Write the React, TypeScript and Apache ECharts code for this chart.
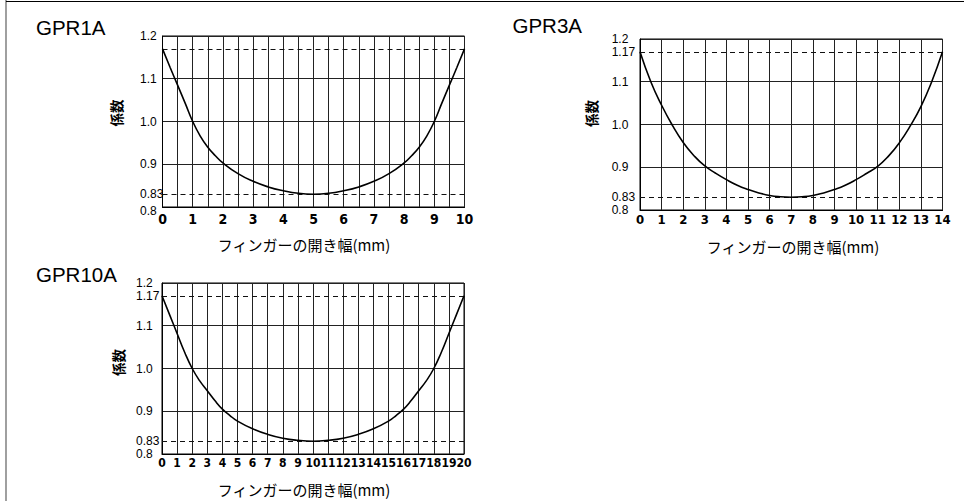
import React, { useEffect, useRef } from "react";
import * as echarts from "echarts";

// ---- data ----
const titles = ["GPR1A", "GPR3A", "GPR10A"];
const xName = "フィンガーの開き幅(mm)";
const yName = "係数";
const yTickLabels = [0.8, 0.83, 0.9, 1.0, 1.1, 1.17, 1.2];
const refLines = [0.83, 1.17];

const gpr1aX = [0, 0.25, 0.5, 0.75, 1, 1.25, 1.5, 1.75, 2, 2.5, 3, 3.5, 4, 4.5, 5, 5.5, 6, 6.5, 7, 7.5, 8, 8.25, 8.5, 8.75, 9, 9.25, 9.5, 9.75, 10];
const gpr1aY = [1.17, 1.127, 1.085, 1.043, 1.0, 0.966, 0.94, 0.92, 0.903, 0.878, 0.86, 0.847, 0.838, 0.832, 0.83, 0.832, 0.838, 0.847, 0.86, 0.878, 0.903, 0.92, 0.94, 0.966, 1.0, 1.043, 1.085, 1.127, 1.17];

const gpr3aX = [0, 0.5, 1, 1.5, 2, 2.5, 3, 3.5, 4, 4.5, 5, 5.5, 6, 6.5, 7, 7.5, 8, 8.5, 9, 9.5, 10, 10.5, 11, 11.5, 12, 12.5, 13, 13.5, 14];
const gpr3aY = [1.17, 1.1, 1.045, 0.998, 0.958, 0.927, 0.903, 0.886, 0.871, 0.858, 0.848, 0.84, 0.834, 0.831, 0.83, 0.831, 0.834, 0.84, 0.848, 0.858, 0.871, 0.886, 0.902, 0.926, 0.957, 0.996, 1.042, 1.1, 1.17];

const gpr10aX = [0, 0.5, 1, 1.5, 2, 2.5, 3, 3.5, 4, 4.5, 5, 6, 7, 8, 9, 10, 11, 12, 13, 14, 15, 15.5, 16, 16.5, 17, 17.5, 18, 18.5, 19, 19.5, 20];
const gpr10aY = [1.17, 1.126, 1.082, 1.038, 1.0, 0.971, 0.948, 0.925, 0.905, 0.89, 0.877, 0.859, 0.846, 0.837, 0.832, 0.83, 0.832, 0.837, 0.846, 0.859, 0.877, 0.89, 0.905, 0.925, 0.948, 0.971, 1.0, 1.038, 1.082, 1.126, 1.17];

const xMax = [10, 14, 20];
const xInterval = [0.5, 1, 1];

// ---- layout / style (not data) ----
const grids = [
  { left: 162.5, top: 36, width: 302, height: 171 },
  { left: 640, top: 39, width: 302.5, height: 171 },
  { left: 162, top: 283, width: 302, height: 171 },
];
const xLabelFont = [14, 13, 12];
const xLabelMargin = [4.5, 2.5, 3];
const yLabelMargin = [22.5, 28.3, 26];
const titlePos = [
  [36, 27],
  [512.5, 25],
  [36, 274],
];
const yNamePos = [
  [116, 113],
  [591, 113.5],
  [118, 362.5],
];
const xNamePos = [
  [304, 244.5],
  [793, 246],
  [304, 489],
];

const LABEL_FONT = "'Liberation Sans', Arial, sans-serif";
const NUM_FONT = "'Liberation Sans Narrow', 'DejaVu Sans Condensed', 'Liberation Sans', sans-serif";
const CJK_FONT = "'Noto Sans CJK JP', 'Noto Sans', sans-serif";

export default function App() {
  const ref = useRef<HTMLDivElement>(null);

  useEffect(() => {
    if (!ref.current) return;
    const chart = echarts.init(ref.current, undefined, { renderer: "svg" });

    const series = [
      [gpr1aX, gpr1aY],
      [gpr3aX, gpr3aY],
      [gpr10aX, gpr10aY],
    ].map(([xs, ys], i) => ({
      type: "line",
      xAxisIndex: i,
      yAxisIndex: i,
      data: xs.map((x, k) => [x, ys[k]]),
      smooth: 0.5,
      symbol: "none",
      z: 5,
      lineStyle: { color: "#000", width: 1.6 },
      markLine: {
        silent: true,
        symbol: ["none", "none"],
        label: { show: false },
        lineStyle: { type: [5, 4], color: "#111", width: 1 },
        data: refLines.map((v) => ({ yAxis: v })),
      },
    }));

    const rich = {
      n: { fontFamily: LABEL_FONT, fontSize: 12, color: "#000" },
      u: { fontFamily: LABEL_FONT, fontSize: 12, color: "#000", padding: [0, 0, 10, 0] },
      d: { fontFamily: LABEL_FONT, fontSize: 12, color: "#000", padding: [8, 0, 0, 0] },
    };

    const graphic: any[] = [
      { type: "line", shape: { x1: 6, y1: 0, x2: 6, y2: 501 }, style: { stroke: "#777", lineWidth: 1.4 } },
      { type: "line", shape: { x1: 6, y1: 1.5, x2: 964, y2: 1.5 }, style: { stroke: "#000", lineWidth: 1.2 } },
    ];
    titles.forEach((t, i) => {
      graphic.push({
        type: "text",
        x: titlePos[i][0],
        y: titlePos[i][1],
        style: {
          text: t,
          fontFamily: LABEL_FONT,
          fontSize: 20.5,
          fill: "#000",
          textAlign: "left",
          textVerticalAlign: "middle",
        },
      });
      graphic.push({
        type: "text",
        x: yNamePos[i][0],
        y: yNamePos[i][1],
        rotation: Math.PI / 2,
        style: {
          text: yName,
          fontFamily: CJK_FONT,
          fontWeight: "bold",
          fontSize: 13.5,
          fill: "#000",
          textAlign: "center",
          textVerticalAlign: "middle",
        },
      });
      graphic.push({
        type: "text",
        x: xNamePos[i][0],
        y: xNamePos[i][1],
        style: {
          text: xName,
          fontFamily: CJK_FONT,
          fontSize: 15,
          fill: "#000",
          textAlign: "center",
          textVerticalAlign: "middle",
        },
      });
    });

    chart.setOption({
      animation: false,
      backgroundColor: "#fff",
      grid: grids.map((g) => ({ ...g, show: true, borderColor: "#000", borderWidth: 1, backgroundColor: "transparent" })),
      xAxis: grids.map((_, i) => ({
        type: "value",
        gridIndex: i,
        min: 0,
        max: xMax[i],
        interval: xInterval[i],
        axisLine: { show: true, lineStyle: { color: "#000", width: 1 } },
        axisTick: { show: false },
        splitLine: { show: true, lineStyle: { color: "#222", width: 1 } },
        axisLabel: {
          margin: xLabelMargin[i],
          showMinLabel: true,
          showMaxLabel: true,
          fontFamily: NUM_FONT,
          fontWeight: "bold",
          fontSize: xLabelFont[i],
          color: "#000",
          formatter: (v: number) => (Number.isInteger(v) ? String(v) : ""),
        },
      })),
      yAxis: grids.map((_, i) => ({
        type: "value",
        gridIndex: i,
        min: 0.8,
        max: 1.2,
        interval: 0.1,
        axisLine: { show: true, lineStyle: { color: "#000", width: 1 } },
        axisTick: { show: false },
        splitLine: { show: true, lineStyle: { color: "#222", width: 1 } },
        axisLabel: {
          customValues: yTickLabels,
          showMinLabel: true,
          showMaxLabel: true,
          hideOverlap: false,
          align: "left",
          margin: yLabelMargin[i],
          fontFamily: LABEL_FONT,
          fontSize: 12,
          color: "#000",
          rich,
          formatter: (v: number) => {
            const r = Math.round(v * 100) / 100;
            const s = r === 0.83 || r === 1.17 ? String(r) : r.toFixed(1);
            if (i === 0 && r === 1.17) return `{u|${s}}`;
            if (i === 0 && r === 0.8) return `{d|${s}}`;
            return `{n|${s}}`;
          },
        },
      })),
      series,
      graphic,
    } as any);

    return () => chart.dispose();
  }, []);

  return (
    <div
      ref={ref}
      style={{ position: "absolute", left: 0, top: 0, width: 964, height: 501, background: "#fff" }}
    />
  );
}
